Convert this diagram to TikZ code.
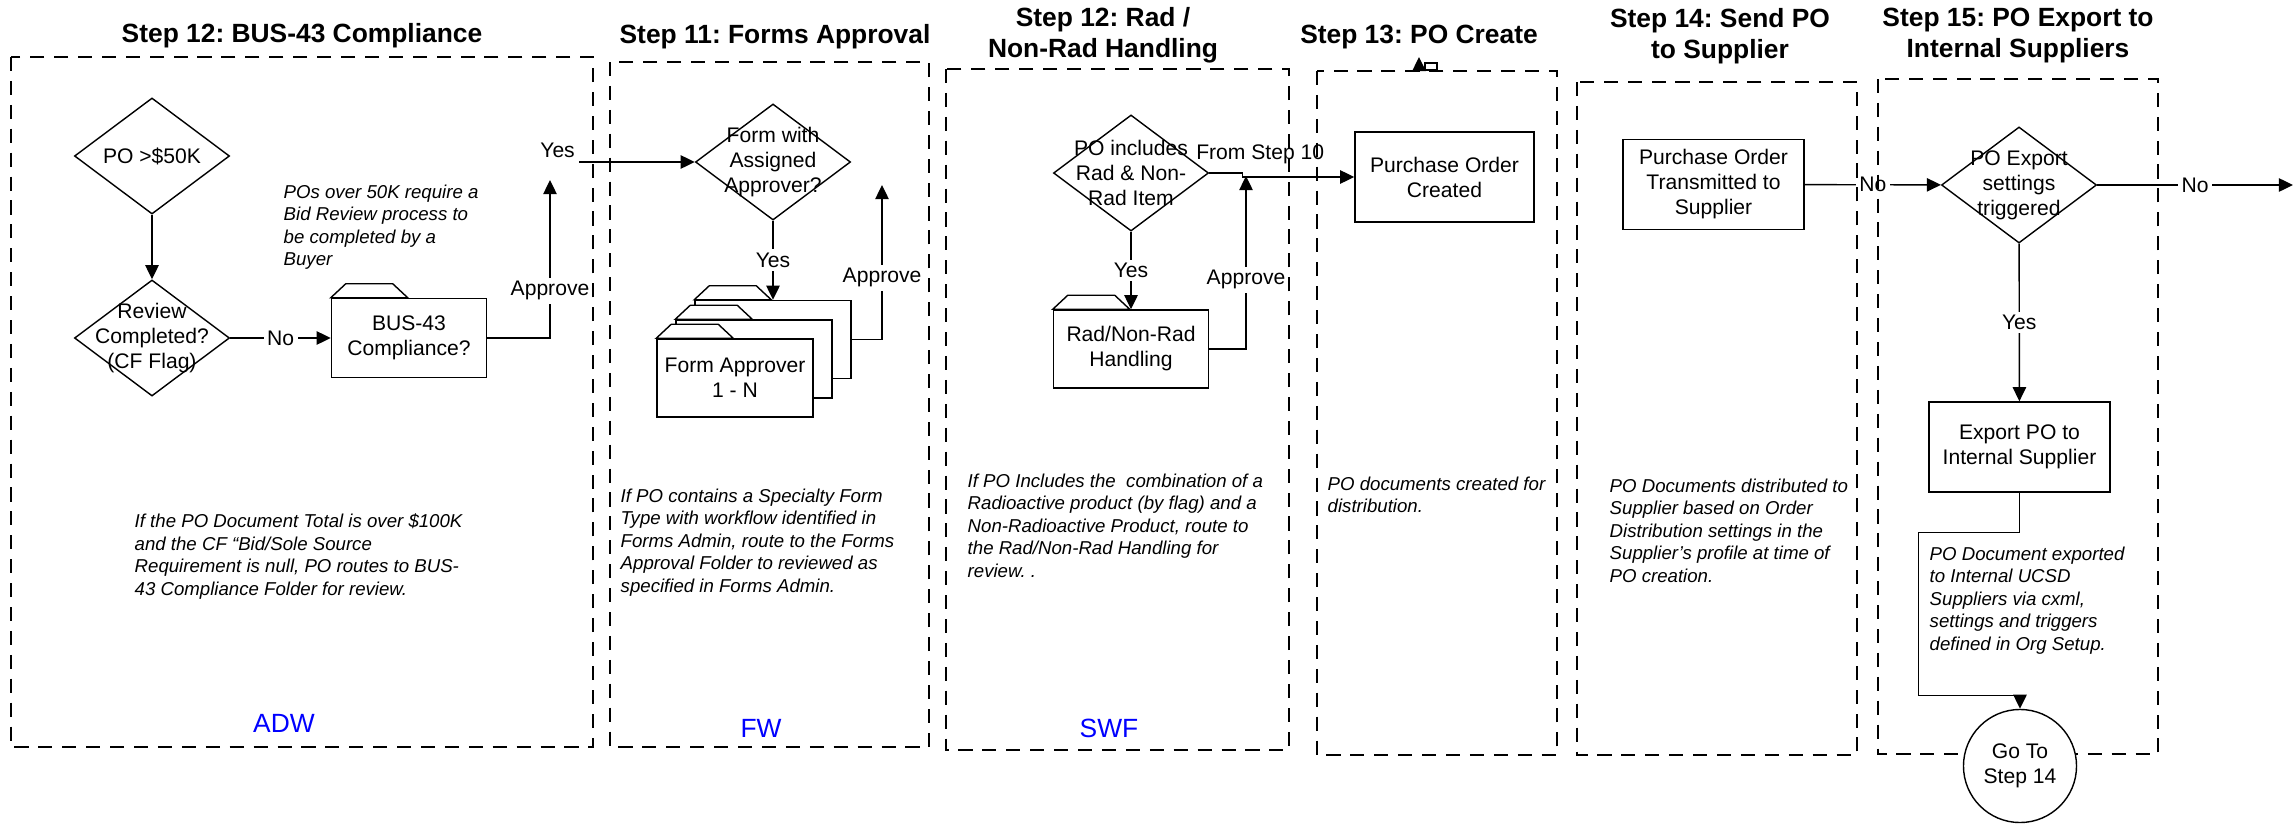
\documentclass[tikz,border=0pt]{standalone}
\usepackage{fontspec}
\setmainfont{Liberation Sans}
\usetikzlibrary{arrows.meta,shapes.geometric}
\frenchspacing
\newcommand{\wfbody}{\fontsize{6}{7.1}\selectfont}
\newcommand{\wfnote}{\fontsize{5.3}{6.4}\selectfont\itshape}
\newcommand{\wftitle}{\fontsize{7.5}{8.8}\selectfont\bfseries}
\newcommand{\wftag}{\fontsize{7.5}{9}\selectfont}
% tab on top of a folder node
\newcommand{\foldertab}[1]{\draw[-,fill=white] (#1.north west) -- ++(15,-14) -- ++(47,0) -- ++(15,14) -- cycle;}

\begin{document}
\begin{tikzpicture}[->,>={Triangle[length=4pt,width=3.8pt]},x=0.01cm,y=-0.01cm,
                    line width=0.4pt,font=\wfbody,
                    decision/.style={diamond,draw,minimum width=1.55cm,minimum height=1.16cm,
                      inner sep=0pt,label={[align=center]center:#1}}]
  \tikzstyle{folder}=[rectangle,draw,fill=white,minimum width=1.56cm,minimum height=0.78cm,inner sep=0pt,align=center]
  \tikzstyle{process}=[rectangle,draw,minimum width=1.81cm,minimum height=0.9cm,inner sep=0pt,align=center]
  \tikzstyle{note}=[anchor=north west,inner sep=0pt,align=left,font=\wfnote]
  \tikzstyle{steptitle}=[align=center,font=\wftitle]
  \tikzstyle{wflabel}=[text=blue,font=\wftag]
  \tikzstyle{lane}=[draw,-,dash pattern=on 4pt off 2.8pt,line width=0.75pt]
  \tikzstyle{edgelbl}=[fill=white,inner sep=1pt]

  \useasboundingbox (0,0) rectangle (2296,824);

  \node[steptitle] (t12)  at (302,36)  {Step 12: BUS-43 Compliance};
  \node[steptitle] (t11)  at (775,37)  {Step 11: Forms Approval};
  \node[steptitle] (t12b) at (1103,35) {Step 12: Rad /\\Non-Rad Handling};
  \node[steptitle] (t13)  at (1419,37) {Step 13: PO Create};
  \node[steptitle] (t14)  at (1720,36) {Step 14: Send PO\\to Supplier};
  \node[steptitle] (t15)  at (2018,36) {Step 15: PO Export to\\Internal Suppliers};

  % step 12 bus-43
  \node[decision={PO >\$50K}] (over50) at (152,156) {};
  \node[decision={Review\\Completed?\\(CF Flag)}] (review) at (152,338) {};
  \node[folder,minimum width=1.55cm,minimum height=0.79cm] (bus43) at (409,338) {BUS-43\\Compliance?};
  \foldertab{bus43}
  \node[note] (n12a) at (283,184) {POs over 50K require a\\Bid Review process to\\be completed by a\\Buyer};
  \node[note] (n12b) at (134,513) {If the PO Document Total is over \$100K\\and the CF “Bid/Sole Source\\Requirement is null, PO routes to BUS-\\43 Compliance Folder for review.};
  \node[wflabel] (adw) at (284,723) {ADW};
  \coordinate (busup) at (550,180);
  \coordinate (yesstart) at (579,162);

  % step 11 forms
  \node[decision={Form with\\Assigned\\Approver?}] (formchk) at (773,162) {};
  \node[folder] (apprback) at (773,339.5) {};
  \foldertab{apprback}
  \node[folder] (apprmid) at (754,359) {};
  \foldertab{apprmid}
  \node[folder] (appr) at (735,378) {Form Approver\\1 - N};
  \foldertab{appr}
  \node[note] (n11) at (620,488) {If PO contains a Specialty Form\\Type with workflow identified in\\Forms Admin, route to the Forms\\Approval Folder to reviewed as\\specified in Forms Admin.};
  \node[wflabel] (fw) at (761,728) {FW};
  \coordinate (apprup) at (882,185);

  % step 12 rad
  \node[decision={PO includes\\Rad \& Non-\\Rad Item}] (radchk) at (1131,173) {};
  \node[folder,minimum width=1.55cm] (radnon) at (1131,349) {Rad/Non-Rad\\Handling};
  \foldertab{radnon}
  \node[note] (n12c) at (967,473) {If PO Includes the\ \ combination of a\\Radioactive product (by flag) and a\\Non-Radioactive Product, route to\\the Rad/Non-Rad Handling for\\review. .};
  \node[wflabel] (swf) at (1109,728) {SWF};
  \coordinate (radup) at (1246,176);

  % step 13, 14, 15
  \node[process,minimum width=1.79cm] (pocreate) at (1444.5,177) {Purchase Order\\Created};
  \node[note] (n13) at (1327,476) {PO documents created for\\distribution.};
  \coordinate (stub) at (1419,71);
  \node[process] (potrans) at (1713.5,184.5) {Purchase Order\\Transmitted to\\Supplier};
  \node[note] (n14) at (1609,478) {PO Documents distributed to\\Supplier based on Order\\Distribution settings in the\\Supplier’s profile at time of\\PO creation.};
  \node[decision={PO Export\\settings\\triggered}] (exportchk) at (2019,185) {};
  \node[process] (poexport) at (2019.5,447) {Export PO to\\Internal Supplier};
  \node[note] (n15) at (1929,546) {PO Document exported\\to Internal UCSD\\Suppliers via cxml,\\settings and triggers\\defined in Org Setup.};
  \coordinate (nextstep) at (2293,185);

  \draw (over50) -- (review);
  \draw (review) -- node[edgelbl] {No} (bus43);
  \draw (bus43) -| node[edgelbl,pos=0.65] {Approve} (busup);
  \draw (yesstart) node[anchor=south east,inner sep=1pt] {Yes} -- (formchk);
  \draw (formchk) -- node[edgelbl] {Yes} (apprback);
  \draw (apprback) -| node[edgelbl,pos=0.7] {Approve} (apprup);
  \draw (radchk) -- node[edgelbl] {Yes} (radnon);
  \draw (radnon) -| node[edgelbl,pos=0.7] {Approve} (radup);
  \draw (radchk.east) -- ++(33,0) |- node[pos=0.58,above=3.5pt,inner sep=0pt] {From Step 10} (pocreate);
  \draw (stub) -- ++(0,-14);
  \draw[-] (1425,63) rectangle (1437,70);
  \draw (potrans) -- node[edgelbl] {No} (exportchk);
  \draw (exportchk) -- node[edgelbl] {No} (nextstep);
  \draw (exportchk) -- node[edgelbl] {Yes} (poexport);

  % swim lanes
  \draw[lane] (11,57) rectangle (593,747);
  \draw[lane] (610,62) rectangle (929,747);
  \draw[lane] (946,69) rectangle (1289,750);
  \draw[lane] (1317,71) rectangle (1557,755);
  \draw[lane] (1577,82) rectangle (1857,755);
  \draw[lane] (1878,79) rectangle (2158,754);

  \node[circle,draw,fill=white,minimum size=1.13cm,inner sep=0pt,align=center] (goto14) at (2020,766) {Go To\\Step 14};
  \draw (poexport.south) -- ++(0,40) -| ++(-101,163) -| (goto14);
\end{tikzpicture}
\end{document}
